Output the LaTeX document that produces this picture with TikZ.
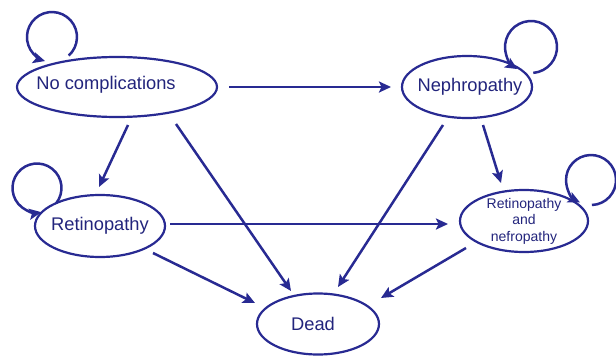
\documentclass[tikz,border=0pt]{standalone}
\usepackage{fontspec}
\setmainfont{Liberation Sans}
\usetikzlibrary{shapes.geometric,arrows.meta,calc}
\definecolor{ink}{RGB}{40,42,146}
\tikzset{
  state/.style={draw=ink, line width=2.2pt, ellipse, inner sep=0pt},
  big/.style={font=\fontsize{18.3}{22}\selectfont, text=ink!85!black},
  small/.style={font=\fontsize{14}{16.5}\selectfont, text=ink!85!black, align=center},
  arr/.style={draw=ink, line width=2.5pt, -{Stealth[length=12pt,width=11pt,inset=2.5pt]}},
}
\begin{document}
\begin{tikzpicture}[x=1pt,y=1pt]
\useasboundingbox (0,0) rectangle (616,-356);
\node[state, minimum width=200pt, minimum height=60pt,
  label={[big, xshift=-11pt, yshift=2pt]center:No complications}] (nc) at (117,-87) {};
\node[state, minimum width=130pt, minimum height=62pt,
  label={[big, xshift=3pt]center:Nephropathy}] (ne) at (467,-87) {};
\node[state, minimum width=130pt, minimum height=62pt,
  label={[big]center:Retinopathy}] (ret) at (100,-226) {};
\node[state, minimum width=128pt, minimum height=62pt,
  label={[small]center:Retinopathy\\and\\nefropathy}] (rn) at (524,-221) {};
\node[state, minimum width=122pt, minimum height=61pt,
  label={[big, xshift=-5pt]center:Dead}] (dead) at (318,-324) {};

% straight transitions
\draw[arr] ($(nc)+(112,0)$) -- ($(ne)+(-76,0)$);
\draw[arr] ($(nc)+(11,-38)$) -- ($(ret)+(-1,39)$);
\draw[arr] ($(nc)+(59,-37)$) -- ($(dead)+(-27,33)$);
\draw[arr] ($(ne)+(-24,-38)$) -- ($(dead)+(20,37)$);
\draw[arr] ($(ne)+(16,-38)$) -- ($(rn)+(-23,38)$);
\draw[arr] ($(ret)+(70,2)$) -- ($(rn)+(-76,-3)$);
\draw[arr] ($(ret)+(53,-27)$) -- ($(dead)+(-63,21)$);
\draw[arr] ($(rn)+(-58,-27)$) -- ($(dead)+(63,26)$);

% self loops
\draw[arr] ($(nc)+(-48.3,31.4)$) arc[start angle=-48, end angle=254, radius=25];
\draw[arr] ($(ne)+(66.3,14.1)$) arc[start angle=-85, end angle=238, radius=26];
\draw[arr] ($(ret)+(-43.7,22.9)$) arc[start angle=-38, end angle=280, radius=24.5];
\draw[arr] ($(rn)+(67.9,16)$) arc[start angle=-88, end angle=244, radius=25];
\end{tikzpicture}
\end{document}
